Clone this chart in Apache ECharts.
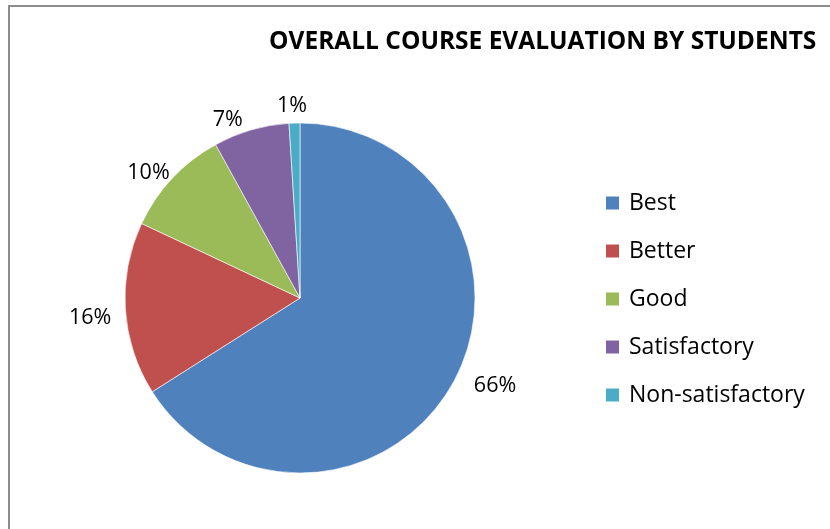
<!DOCTYPE html>
<html>
<head>
<meta charset="utf-8">
<script src="https://cdn.jsdelivr.net/npm/echarts@6/dist/echarts.min.js"></script>
<style>
  html, body { margin: 0; padding: 0; background: #fff; }
  #chart { width: 830px; height: 529px; }
</style>
</head>
<body>
<div id="chart"></div>
<script>
// data
const categories = ['Best', 'Better', 'Good', 'Satisfactory', 'Non-satisfactory'];
const shares = [66, 16, 10, 7, 1];
const colors = ['#4F81BD', '#C0504D', '#9BBB59', '#8064A2', '#4BACC6'];

// small nudges so the percent labels sit where Excel's "best fit" puts them
const labelNudge = [[5, -2], [3, 8], [11, 3], [0, 1], [18, -5]];

const chart = echarts.init(document.getElementById('chart'));

chart.setOption({
  animation: false,
  color: colors,
  title: {
    text: 'OVERALL COURSE EVALUATION BY STUDENTS',
    left: 269,
    top: 30,
    padding: 0,
    textStyle: {
      fontFamily: 'Open Sans',
      fontWeight: 'bold',
      fontSize: 24.5,
      color: '#000'
    }
  },
  graphic: [{
    type: 'rect',
    shape: { x: 9, y: 6, width: 900, height: 600 },
    style: { fill: 'none', stroke: '#8c8c8c', lineWidth: 2 },
    silent: true
  }],
  legend: {
    orient: 'vertical',
    left: 604,
    top: 191,
    padding: 0,
    icon: 'rect',
    itemWidth: 15,
    itemHeight: 15,
    itemGap: 24,
    textStyle: {
      fontFamily: 'Open Sans',
      fontSize: 23,
      color: '#000',
      lineHeight: 24,
      padding: [0, 0, 0, 4]
    },
    data: categories
  },
  series: [{
    type: 'pie',
    center: [300, 298],
    radius: 175,
    startAngle: 90,
    clockwise: true,
    avoidLabelOverlap: false,
    itemStyle: { borderColor: '#fff', borderWidth: 0.6 },
    label: {
      show: true,
      position: 'outside',
      formatter: '{d}%',
      fontFamily: 'Open Sans',
      fontSize: 21.5,
      color: '#000'
    },
    labelLine: { show: false, length: 12, length2: 0 },
    labelLayout: function (params) {
      const n = labelNudge[params.dataIndex] || [0, 0];
      return { dx: n[0], dy: n[1] };
    },
    data: categories.map((name, i) => ({ name: name, value: shares[i] }))
  }]
});
</script>
</body>
</html>
